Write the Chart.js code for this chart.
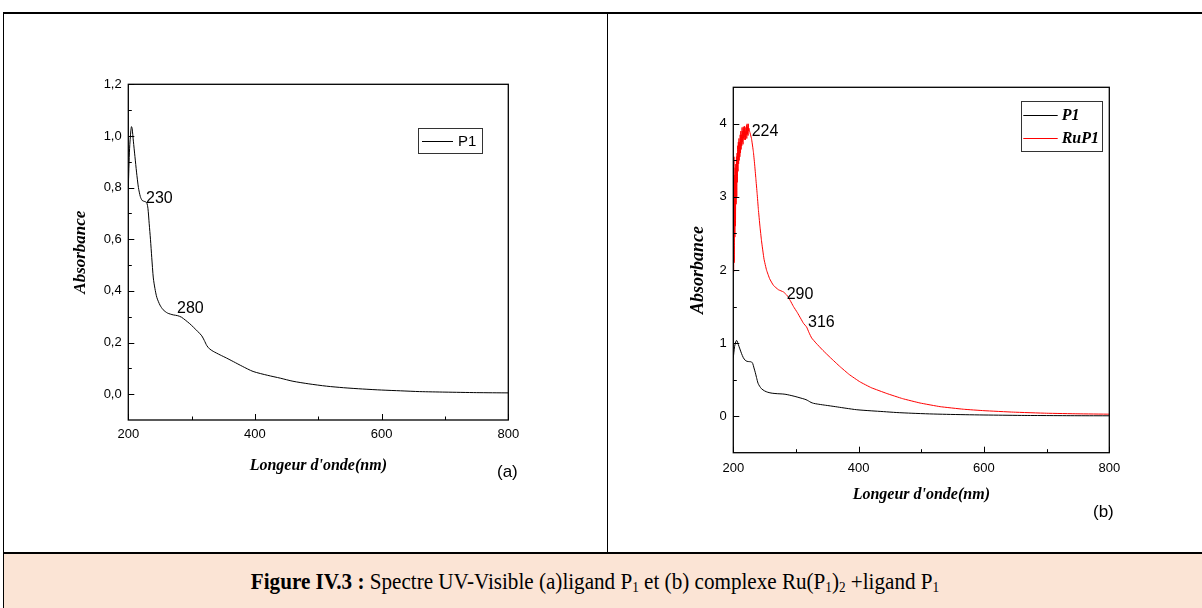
<!DOCTYPE html>
<html>
<head>
<meta charset="utf-8">
<script src="https://cdn.jsdelivr.net/npm/chart.js@4.4.1/dist/chart.umd.min.js"></script>
<style>
html,body{margin:0;padding:0;background:#fff;}
body{width:1202px;height:608px;position:relative;overflow:hidden;}
.rule{position:absolute;background:#000;}
#wrapA{position:absolute;left:5px;top:14px;width:600px;height:538px;}
#wrapB{position:absolute;left:609px;top:14px;width:592px;height:538px;}
#caption{position:absolute;left:4px;top:554px;width:1198px;height:54px;background:#FBE4D5;}
#captionText{position:absolute;left:0;top:0;width:1182px;height:54px;
  font-family:"Liberation Serif","Times New Roman",serif;font-size:24px;color:#000;
  text-align:center;line-height:54px;transform:scaleX(0.88);transform-origin:591px 27px;white-space:nowrap;}
#captionText b{font-weight:bold;}
#captionText sub{font-size:15px;vertical-align:-3px;line-height:0;}
.panel{position:absolute;font-family:"Liberation Sans",Arial,sans-serif;font-size:17px;color:#000;line-height:1;}
</style>
</head>
<body>
<div class="rule" style="left:3px;top:12px;width:1199px;height:2px;"></div>
<div class="rule" style="left:3px;top:12px;width:1px;height:596px;"></div>
<div class="rule" style="left:607px;top:12px;width:1px;height:541px;"></div>
<div class="rule" style="left:3px;top:552px;width:1199px;height:2px;"></div>
<div id="wrapA"><canvas id="chartA" width="600" height="538"></canvas></div>
<div id="wrapB"><canvas id="chartB" width="592" height="538"></canvas></div>
<div class="panel" style="left:497px;top:463px;">(a)</div>
<div class="panel" style="left:1093px;top:503px;">(b)</div>
<div id="caption"><div id="captionText"><b>Figure IV.3 :</b> Spectre UV-Visible (a)ligand P<sub>1</sub> et (b) complexe Ru(P<sub>1</sub>)<sub>2</sub> +ligand P<sub>1</sub></div></div>

<script>
// ---------- DATA ----------
const wavelengthP1 = [200,202,204,205,206,208,210.5,213,216,219,222,226,229,231,233,235,237,239.5,242,245,250,255,262,271,278,284,290,297,303,310,316,320,324,328,334,345,355,366,380,397,420,440,460,485,513,540,570,600,630,660,700,750,800];
const absorbanceP1 = [0.80,0.95,1.02,1.036,1.03,0.98,0.92,0.86,0.80,0.765,0.75,0.746,0.742,0.72,0.66,0.60,0.53,0.45,0.41,0.375,0.345,0.327,0.314,0.307,0.304,0.298,0.287,0.273,0.259,0.242,0.226,0.208,0.188,0.176,0.166,0.152,0.140,0.126,0.108,0.088,0.073,0.062,0.050,0.040,0.031,0.025,0.020,0.016,0.013,0.010,0.008,0.006,0.005];

const wavelengthRuP1 = [200,200.5,201,201.5,202,202.5,203,203.5,204,204.5,205,205.5,206,206.5,207,207.5,208,208.5,209,209.5,210,210.5,211,211.5,212,212.5,213,213.5,214,214.5,215,215.5,216,216.5,217,217.5,218,218.5,219,219.5,220,220.5,221,221.5,222,222.5,223,223.5,224,224.5,225,226,229,232,234,236,238,240,242.5,245,249,253,258,264,272,280,286,291,296,302,308,312,317,321,325,332,343,355,370,385,402,420,445,470,498,530,567,600,647,700,750,800];
const absorbanceRuP1 = [3.50,1.97,3.55,2.10,3.30,2.45,3.40,2.60,3.45,2.90,3.55,3.00,3.60,3.20,3.70,3.35,3.75,3.45,3.80,3.50,3.75,3.55,3.85,3.60,3.90,3.65,3.85,3.70,3.95,3.75,3.90,3.72,3.96,3.80,3.92,3.78,3.97,3.82,3.90,3.78,3.95,3.85,3.98,3.80,4.00,3.86,3.96,3.84,4.00,3.90,3.94,3.90,3.80,3.62,3.45,3.25,3.05,2.83,2.60,2.40,2.15,2.00,1.88,1.79,1.73,1.70,1.65,1.58,1.50,1.42,1.33,1.27,1.22,1.14,1.07,1.00,0.90,0.80,0.68,0.57,0.47,0.39,0.31,0.24,0.18,0.13,0.095,0.075,0.055,0.040,0.032,0.027];

const xMajorTicks = [200,400,600,800];
const xMinorTicks = [300,500,700];
const yMajorTicksA = [0,0.2,0.4,0.6,0.8,1.0,1.2];
const yMinorTicksA = [0.1,0.3,0.5,0.7,0.9,1.1];
const yMajorTicksB = [0,1,2,3,4];
const yMinorTicksB = [0.5,1.5,2.5,3.5];

const peakLabelsA = ['230','280'];
const peakXA = [228,277];
const peakYA = [0.756,0.33];
const peakLabelsB = ['224','290','316'];
const peakXB = [229.4,285.2,319.2];
const peakYB = [3.90,1.67,1.28];

const xTitle = "Longeur d'onde(nm)";
const yTitle = "Absorbance";

// ---------- HELPERS ----------
const pts = (xs, ys) => xs.map((x, i) => ({x, y: ys[i]}));
const sansFont = '"Liberation Sans", Arial, sans-serif';
const serifFont = '"Liberation Serif", "Times New Roman", serif';

const decorPlugin = {
  id: 'decor',
  afterDatasetsDraw(chart, args, o) {
    const {ctx, chartArea: a, scales: {x, y}} = chart;
    ctx.save();
    ctx.strokeStyle = '#000';
    ctx.lineWidth = 1.3;
    ctx.strokeRect(a.left, a.top, a.right - a.left, a.bottom - a.top);
    ctx.lineWidth = 1;
    const seg = (x0, y0, x1, y1) => { ctx.beginPath(); ctx.moveTo(x0, y0); ctx.lineTo(x1, y1); ctx.stroke(); };
    o.xMajor.forEach(v => { const p = Math.round(x.getPixelForValue(v)) + 0.5; seg(p, a.bottom, p, a.bottom - 6); });
    o.xMinor.forEach(v => { const p = Math.round(x.getPixelForValue(v)) + 0.5; seg(p, a.bottom, p, a.bottom - 3.5); });
    o.yMajor.forEach(v => { const p = Math.round(y.getPixelForValue(v)) + 0.5; seg(a.left, p, a.left + 6, p); });
    o.yMinor.forEach(v => { const p = Math.round(y.getPixelForValue(v)) + 0.5; seg(a.left, p, a.left + 3.5, p); });
    // peak annotations
    ctx.fillStyle = '#000';
    ctx.font = '16px ' + sansFont;
    ctx.textAlign = 'left';
    ctx.textBaseline = 'middle';
    o.peakLabels.forEach((t, i) => ctx.fillText(t, x.getPixelForValue(o.peakX[i]), y.getPixelForValue(o.peakY[i])));
    // legend box
    const L = o.legend;
    const bx = a.right - L.right - L.w, by = a.top + L.top;
    ctx.strokeStyle = '#333';
    ctx.lineWidth = 1;
    ctx.strokeRect(Math.round(bx) + 0.5, Math.round(by) + 0.5, L.w, L.h);
    ctx.font = L.font;
    chart.data.datasets.forEach((ds, i) => {
      const ry = by + L.rowY[i];
      ctx.strokeStyle = ds.borderColor;
      ctx.lineWidth = 1;
      seg(bx + L.lineX0, Math.round(ry) + 0.5, bx + L.lineX1, Math.round(ry) + 0.5);
      ctx.fillStyle = '#000';
      ctx.fillText(ds.label, bx + L.textX, ry + 1);
    });
    ctx.restore();
  }
};

function makeChart(id, cfg) {
  return new Chart(document.getElementById(id), {
    type: 'line',
    data: { datasets: cfg.datasets },
    plugins: [decorPlugin],
    options: {
      responsive: false,
      animation: false,
      devicePixelRatio: 1,
      layout: { padding: cfg.padding },
      elements: { point: { radius: 0 }, line: { borderWidth: 1, tension: 0.25 } },
      plugins: {
        legend: { display: false },
        tooltip: { enabled: false },
        decor: cfg.decor
      },
      scales: {
        x: {
          type: 'linear', min: 200, max: 800,
          afterBuildTicks: s => { s.ticks = xMajorTicks.map(v => ({value: v})); },
          afterFit: s => { s.height = cfg.xHeight; },
          grid: { display: false, drawTicks: false },
          border: { display: false },
          ticks: { color: '#000', font: { family: sansFont, size: 13 }, padding: cfg.xTickPad, maxRotation: 0, autoSkip: false },
          title: { display: true, text: xTitle, color: '#000',
                   font: { family: serifFont, size: 16, weight: 'bold', style: 'italic' },
                   padding: { top: 0, bottom: cfg.xTitlePad } }
        },
        y: {
          type: 'linear', min: cfg.yMin, max: cfg.yMax,
          afterBuildTicks: s => { s.ticks = cfg.yMajor.map(v => ({value: v})); },
          afterFit: s => { s.width = cfg.yWidth; },
          grid: { display: false, drawTicks: false },
          border: { display: false },
          ticks: { color: '#000', font: { family: sansFont, size: 13 }, padding: cfg.yTickPad, callback: cfg.yFmt },
          title: { display: true, text: yTitle, color: '#000',
                   font: { family: serifFont, size: cfg.yTitleSize, weight: 'bold', style: 'italic' },
                   padding: { top: cfg.yTitlePad, bottom: 0 } }
        }
      }
    }
  });
}

makeChart('chartA', {
  datasets: [
    { label: 'P1', data: pts(wavelengthP1, absorbanceP1), borderColor: '#000000', backgroundColor: '#000000' }
  ],
  padding: { left: 60, right: 96.7, top: 70.3, bottom: 72 },
  xHeight: 60, xTickPad: 6.2, xTitlePad: 4.4,
  yWidth: 63.3, yTickPad: 6.6, yTitleSize: 17, yTitlePad: 5.8,
  yMin: -0.1, yMax: 1.2, yMajor: yMajorTicksA,
  yFmt: v => v.toFixed(1).replace('.', ','),
  decor: {
    xMajor: xMajorTicks, xMinor: xMinorTicks, yMajor: yMajorTicksA, yMinor: yMinorTicksA,
    peakLabels: peakLabelsA, peakX: peakXA, peakY: peakYA,
    legend: { right: 26.3, top: 43.7, w: 64, h: 25, lineX0: 4, lineX1: 35, textX: 40, rowY: [12.5],
              font: '15px ' + sansFont }
  }
});

makeChart('chartB', {
  datasets: [
    { label: 'P1', data: pts(wavelengthP1, absorbanceP1), borderColor: '#000000', backgroundColor: '#000000' },
    { label: 'RuP1', data: pts(wavelengthRuP1, absorbanceRuP1), borderColor: '#FF0000', backgroundColor: '#FF0000', tension: 0.1 }
  ],
  padding: { left: 70, right: 91.7, top: 73.3, bottom: 39.3 },
  xHeight: 60, xTickPad: 7.5, xTitlePad: 8.1,
  yWidth: 54.3, yTickPad: 6.6, yTitleSize: 18, yTitlePad: 8.2,
  yMin: -0.5, yMax: 4.5, yMajor: yMajorTicksB,
  yFmt: v => String(v),
  decor: {
    xMajor: xMajorTicks, xMinor: xMinorTicks, yMajor: yMajorTicksB, yMinor: yMinorTicksB,
    peakLabels: peakLabelsB, peakX: peakXB, peakY: peakYB,
    legend: { right: 7.6, top: 13.7, w: 81, h: 50, lineX0: 2.6, lineX1: 37, textX: 41, rowY: [14, 37.3],
              font: 'bold italic 16px ' + serifFont }
  }
});
</script>
</body>
</html>
